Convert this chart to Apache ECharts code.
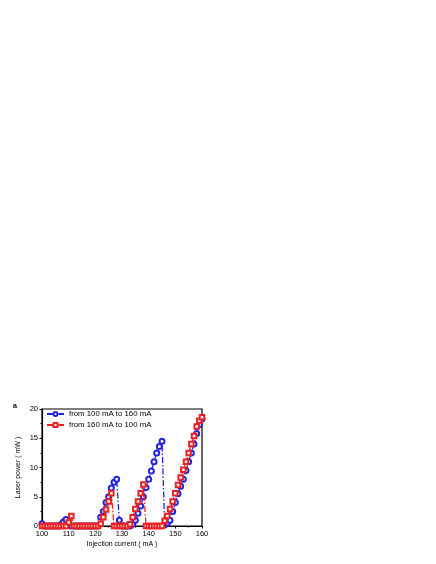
<!DOCTYPE html>
<html>
<head>
<meta charset="utf-8">
<script src="https://cdn.jsdelivr.net/npm/echarts@6/dist/echarts.min.js"></script>
<style>
  html, body { margin: 0; padding: 0; background: #fff; }
  #chart { width: 436px; height: 564px; }
</style>
</head>
<body>
<div id="chart"></div>
<script>
// injection current (mA), both sweeps sampled every 1 mA
var currents = [100, 101, 102, 103, 104, 105, 106, 107, 108, 109,
  110, 111, 112, 113, 114, 115, 116, 117, 118, 119,
  120, 121, 122, 123, 124, 125, 126, 127, 128, 129,
  130, 131, 132, 133, 134, 135, 136, 137, 138, 139,
  140, 141, 142, 143, 144, 145, 146, 147, 148, 149,
  150, 151, 152, 153, 154, 155, 156, 157, 158, 159, 160];

// sweep up: from 100 mA to 160 mA (mW)
var powerUp = [0.4, 0, 0, 0, 0, 0, 0, 0.2, 0.7, 1.1,
  0.4, 0, 0, 0, 0, 0, 0, 0, 0, 0,
  0, 0, 1.5, 2.5, 4.0, 5.0, 6.5, 7.5, 8.0, 1.0,
  0, 0, 0, 0, 0.3, 1.0, 2.2, 3.4, 5.0, 6.6,
  8.0, 9.4, 11.0, 12.5, 13.6, 14.5, 0.2, 0.5, 1.0, 2.5,
  4.0, 5.5, 6.8, 8.0, 9.5, 11.0, 12.5, 14.0, 15.8, 17.3, 18.3];

// sweep down: from 160 mA to 100 mA (mW), listed by ascending current
var powerDown = [0, 0, 0, 0, 0, 0, 0, 0, 0, 0,
  0.6, 1.7, 0, 0, 0, 0, 0, 0, 0, 0,
  0, 0, 0.4, 1.5, 2.8, 4.2, 5.6, 0, 0, 0,
  0, 0, 0, 0.3, 1.5, 2.9, 4.2, 5.6, 7.1, 0,
  0, 0, 0, 0, 0, 0, 0.9, 1.7, 2.9, 4.2,
  5.6, 7.0, 8.3, 9.6, 11.0, 12.5, 14.0, 15.4, 17.0, 18.0, 18.6];

var xTicks = [100, 110, 120, 130, 140, 150, 160];
var yTicks = [0, 5, 10, 15, 20];

function pairs(xs, ys) {
  return xs.map(function (x, i) { return [x, ys[i]]; });
}

var chart = echarts.init(document.getElementById('chart'));
var font = 'Liberation Sans, Arial, sans-serif';

chart.setOption({
  animation: false,
  textStyle: { fontFamily: font },
  graphic: [{
    type: 'text', left: 13, top: 403,
    style: { text: 'a', font: 'bold 7px ' + font, fill: '#000' }
  }],
  grid: {
    left: 42, right: 234, top: 409, bottom: 38,
    show: true, borderColor: '#000', borderWidth: 1.2
  },
  legend: {
    orient: 'vertical', left: 46, top: 410, padding: 0,
    itemWidth: 17, itemHeight: 5, itemGap: 3,
    textStyle: { fontSize: 7.8, color: '#000', fontFamily: font },
    data: ['from 100 mA to 160 mA', 'from 160 mA to 100 mA']
  },
  xAxis: {
    type: 'value', min: 100, max: 160, interval: 10,
    name: 'Injection current ( mA )', nameLocation: 'middle', nameGap: 15,
    nameTextStyle: { fontSize: 7, color: '#000' },
    axisLine: { lineStyle: { color: '#000', width: 1.2 } },
    axisTick: { length: 2.5, lineStyle: { color: '#000' } },
    minorTick: { show: true, splitNumber: 2, length: 1.5, lineStyle: { color: '#000' } },
    axisLabel: {
      fontSize: 7.5, color: '#000', margin: 4,
      formatter: function (v) { return xTicks.indexOf(v) >= 0 ? String(v) : ''; }
    },
    splitLine: { show: false }
  },
  yAxis: {
    type: 'value', min: 0, max: 20, interval: 5,
    name: 'Laser power ( mW )', nameLocation: 'middle', nameGap: 20,
    nameTextStyle: { fontSize: 7, color: '#000' },
    axisLine: { show: true, lineStyle: { color: '#000', width: 1.2 } },
    axisTick: { show: true, length: 2.5, lineStyle: { color: '#000' } },
    minorTick: { show: true, splitNumber: 2, length: 1.5, lineStyle: { color: '#000' } },
    axisLabel: {
      fontSize: 7.5, color: '#000', margin: 4,
      formatter: function (v) { return yTicks.indexOf(v) >= 0 ? String(v) : ''; }
    },
    splitLine: { show: false }
  },
  series: [
    {
      name: 'from 100 mA to 160 mA', type: 'line',
      data: pairs(currents, powerUp),
      symbol: 'emptyCircle', symbolSize: 5,
      itemStyle: { color: '#2424e0', borderWidth: 1 },
      lineStyle: { color: '#2424e0', width: 1.3, type: [6, 2, 1.5, 2] },
      z: 3
    },
    {
      name: 'from 160 mA to 100 mA', type: 'line',
      data: pairs(currents, powerDown),
      symbol: 'emptyRect', symbolSize: 4.5,
      itemStyle: { color: '#ec2020', borderWidth: 1 },
      lineStyle: { color: '#ec2020', width: 1.3, type: [6, 2, 1.5, 2] },
      z: 4
    }
  ]
});
</script>
</body>
</html>
